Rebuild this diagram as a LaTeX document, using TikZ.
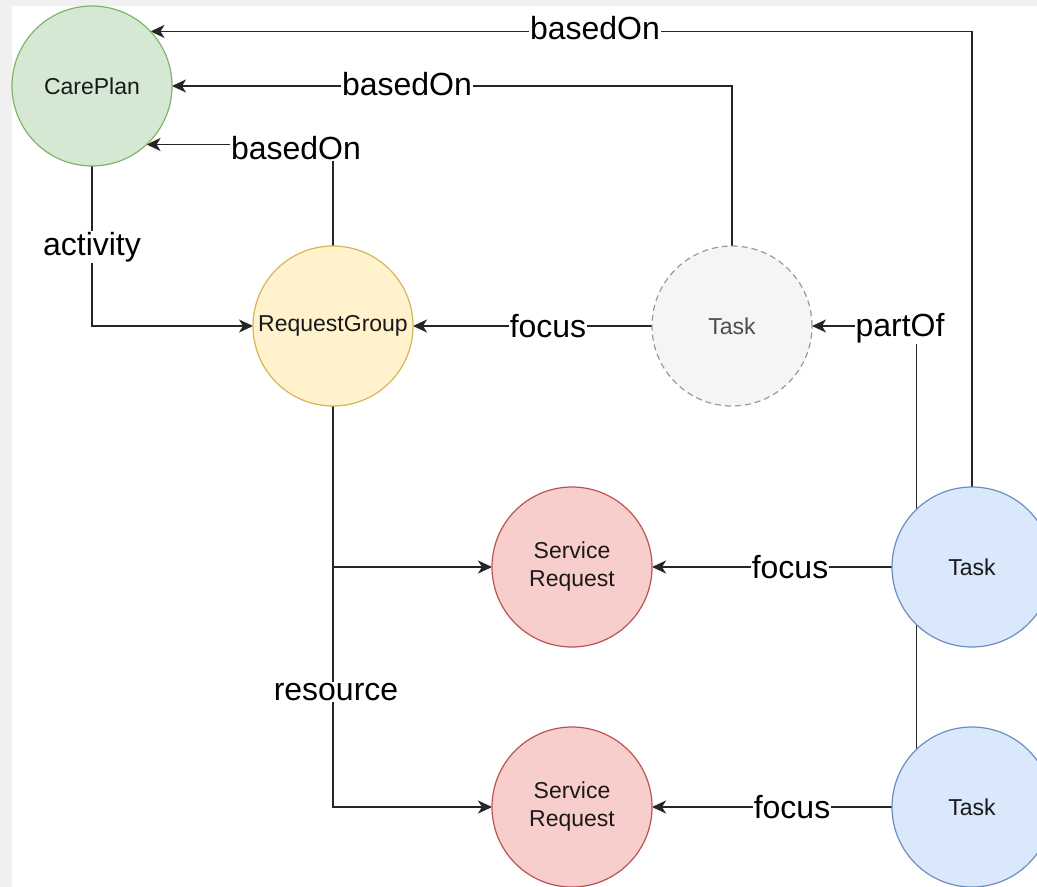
\documentclass[tikz,border=0pt]{standalone}
\usepackage{fontspec}
\setmainfont{Liberation Sans}
\usetikzlibrary{arrows.meta,backgrounds}
\definecolor{cpfill}{HTML}{D5E8D4}\definecolor{cpline}{HTML}{82B366}
\definecolor{rgfill}{HTML}{FFF2CC}\definecolor{rgline}{HTML}{D6B656}
\definecolor{tkfill}{HTML}{F5F5F5}\definecolor{tkline}{HTML}{999999}
\definecolor{srfill}{HTML}{F8CECC}\definecolor{srline}{HTML}{B85450}
\definecolor{tbfill}{HTML}{DAE8FC}\definecolor{tbline}{HTML}{6C8EBF}
\definecolor{frame}{HTML}{F0F0F0}
\begin{document}
\begin{tikzpicture}[x=0.5pt,y=-0.5pt,
    res/.style={circle,minimum size=80pt,inner sep=0pt,outer sep=0pt,line width=0.6pt,
      align=center,font=\fontsize{11.5}{14}\selectfont,text=black!90},
    conn/.style={line width=0.8pt,draw=black!85,-{Stealth[length=7pt,width=6.5pt,inset=2pt]}},
    lbl/.style={fill=white,inner sep=0.5pt,font=\fontsize{16}{18}\selectfont}]
  \useasboundingbox (0,0) rectangle (1037,887);
  \node[res,fill=cpfill,draw=cpline] (careplan) at (92,86) {CarePlan};
  \node[res,fill=rgfill,draw=rgline] (rg) at (333,326) {RequestGroup};
  \node[res,fill=tkfill,draw=tkline,dashed,dash pattern=on 3pt off 2pt,text=black!70] (task0) at (732,326) {Task};
  \node[res,fill=srfill,draw=srline] (sr1) at (572,567) {Service\\Request};
  \node[res,fill=srfill,draw=srline] (sr2) at (572,807) {Service\\Request};
  \node[res,fill=tbfill,draw=tbline] (task1) at (972,567) {Task};
  \node[res,fill=tbfill,draw=tbline] (task2) at (972,807) {Task};
  \node[lbl] (l1) at (595,28) {basedOn};
  \node[lbl] (l2) at (407,84) {basedOn};
  \node[lbl] (l3) at (296,148) {basedOn};
  \node[lbl] (l4) at (92,247) {activity};
  \node[lbl] (l5) at (548,326) {focus};
  \node[lbl] (l6) at (900,328) {partOf};
  \node[lbl] (l7) at (790,567) {focus};
  \node[lbl] (l8) at (792,807) {focus};
  \node[lbl] (l9) at (336,692) {resource};
  \begin{scope}[on background layer]
    \fill[frame] (0,0) rectangle (1037,887);
    \fill[white] (12,6) rectangle (1037,887);
    \draw[conn] (task1.north) |- (careplan.43);
    \draw[conn] (task0.north) |- (careplan.east);
    \draw[conn] (rg.north) |- (careplan.-47);
    \draw[conn] (careplan.south) |- (rg.west);
    \draw[conn] (task0.west) -- (rg.east);
    \draw[conn] (task2.134) |- (task0.east);
    \draw[conn] (task1.west) -- (sr1.east);
    \draw[conn] (task2.west) -- (sr2.east);
    \draw[conn] (rg.south) |- (sr1.west);
    \draw[conn] (rg.south) |- (sr2.west);
  \end{scope}
\end{tikzpicture}
\end{document}
